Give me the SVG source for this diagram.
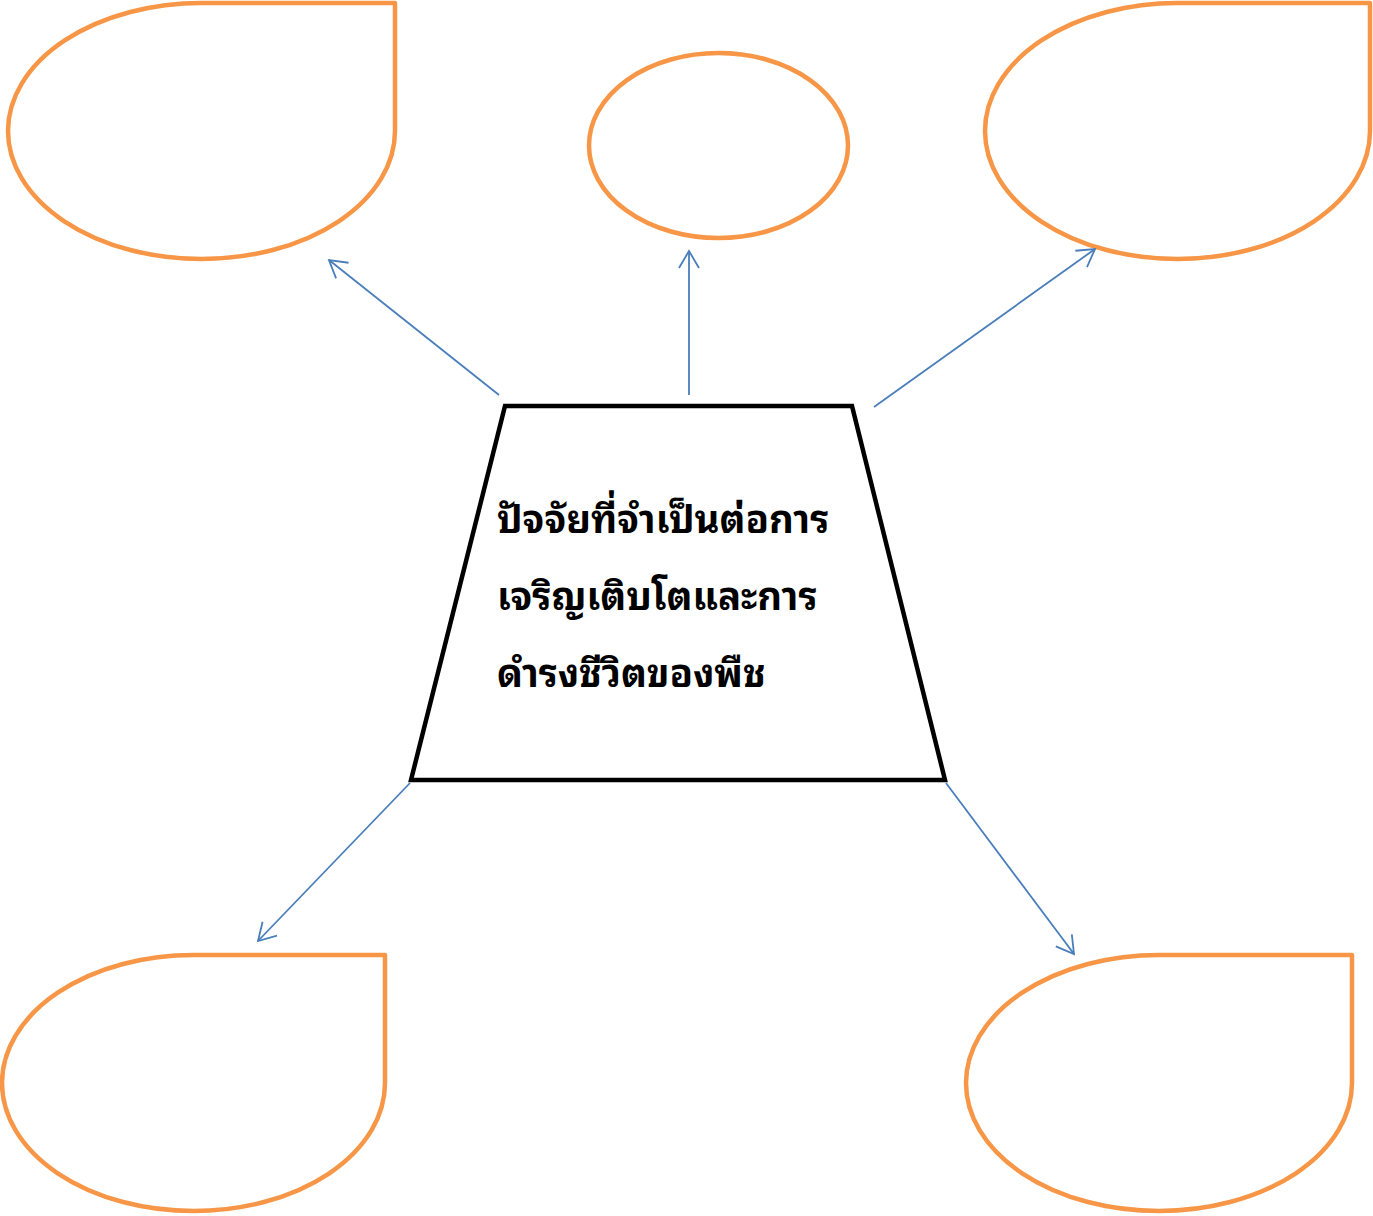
<svg xmlns="http://www.w3.org/2000/svg" width="1373" height="1216" viewBox="0 0 1373 1216">
<style>
.drop{fill:#FFFFFF;stroke:#F79646;stroke-width:4.5;stroke-linejoin:round}
.conn{fill:none;stroke:#4A7EBB;stroke-width:1.8}
.ttl{font-family:"Noto Sans Thai Looped","Noto Sans Thai","Noto Sans","DejaVu Sans",sans-serif;font-weight:bold;font-size:38.3px;fill:#000000}
</style>
<defs>
<marker id="arr" markerUnits="userSpaceOnUse" markerWidth="24" markerHeight="24" viewBox="-20 -12 24 24" refX="0" refY="0" orient="auto">
<path d="M-17,-10 L0,0 L-17,10" fill="none" stroke="#4A7EBB" stroke-width="1.8"/>
</marker>
</defs>
<rect width="1373" height="1216" fill="#FFFFFF"/>
<g id="node-top-left"><path class="drop" d="M201.5,3 L395,3 L395,131 A193.5,128 0 0 1 201.5,259 A193.5,128 0 0 1 8,131 A193.5,128 0 0 1 201.5,3 Z"/></g>
<g id="node-top-center"><ellipse class="drop" cx="718.5" cy="145.5" rx="129.5" ry="92.5"/></g>
<g id="node-top-right"><path class="drop" d="M1177.5,3 L1370,3 L1370,131 A192.5,128 0 0 1 1177.5,259 A192.5,128 0 0 1 985,131 A192.5,128 0 0 1 1177.5,3 Z"/></g>
<g id="node-bottom-left"><path class="drop" d="M193.5,955 L385,955 L385,1083 A191.5,128 0 0 1 193.5,1211 A191.5,128 0 0 1 2,1083 A191.5,128 0 0 1 193.5,955 Z"/></g>
<g id="node-bottom-right"><path class="drop" d="M1159,955 L1352,955 L1352,1083 A193,128 0 0 1 1159,1211 A193,128 0 0 1 966,1083 A193,128 0 0 1 1159,955 Z"/></g>
<g id="node-center">
<polygon points="505,406 852,406 945,780 411,780" fill="#FFFFFF" stroke="#000000" stroke-width="4.5" stroke-linejoin="miter"/>
<text class="ttl" x="497" y="533">ปัจจัยที่จำเป็นต่อการ</text>
<text class="ttl" x="497" y="610">เจริญเติบโตและการ</text>
<text class="ttl" x="497" y="687">ดำรงชีวิตของพืช</text>
</g>
<g id="connectors">
<line class="conn" x1="499" y1="395" x2="329" y2="260" marker-end="url(#arr)"/>
<line class="conn" x1="689" y1="395" x2="689" y2="251" marker-end="url(#arr)"/>
<line class="conn" x1="874" y1="407" x2="1095" y2="249" marker-end="url(#arr)"/>
<line class="conn" x1="410" y1="783" x2="258" y2="941" marker-end="url(#arr)"/>
<line class="conn" x1="946" y1="783" x2="1074" y2="954" marker-end="url(#arr)"/>
</g>
</svg>
